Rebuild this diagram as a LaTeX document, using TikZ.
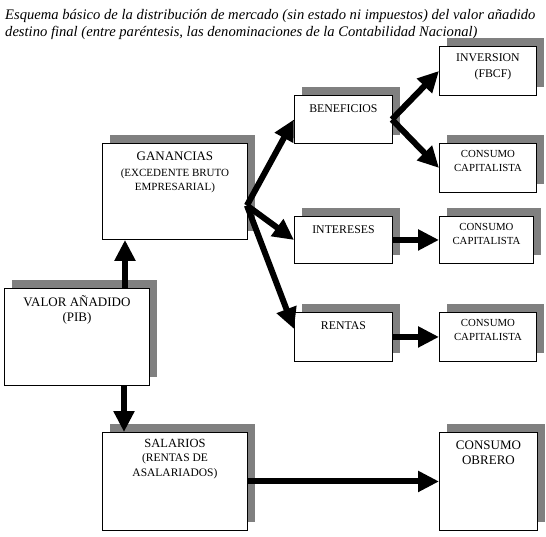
\documentclass[tikz,border=0pt]{standalone}
\usepackage{fontspec}
\setmainfont{Liberation Serif}
\usetikzlibrary{arrows.meta,shadows}
\definecolor{shade}{HTML}{808080}
\begin{document}
\begin{tikzpicture}[x=1pt,y=-1pt,
  box/.style={draw=black,line width=0.9pt,fill=white,inner sep=0pt,anchor=north west,
    drop shadow={shadow xshift=8pt,shadow yshift=8pt,opacity=1,fill=shade,draw=none}},
  txt/.style={anchor=north,inner sep=0pt,align=center},
  flow/.style={line width=6pt,-{Triangle[width=20pt,length=21pt]}},
  label distance=0pt]
\useasboundingbox (0,0) rectangle (546,536);

\node[anchor=north west,inner sep=0pt,align=left,font=\itshape\fontsize{14.6}{17}\selectfont] (title) at (5,9.2)
  {Esquema básico de la distribución de mercado (sin estado ni impuestos) del valor añadido\\
   destino final (entre paréntesis, las denominaciones de la Contabilidad Nacional)};

\node[box,minimum width=145pt,minimum height=97pt,
  label={[txt,yshift=-7.8pt,font=\fontsize{13}{15}\selectfont]north:VALOR AÑADIDO\\(PIB)}] (va) at (4,288) {};
\node[box,minimum width=145pt,minimum height=96pt,
  label={[txt,yshift=-8.7pt,font=\fontsize{11}{14}\selectfont]north:{\fontsize{13}{15}\selectfont GANANCIAS}\\[2pt](EXCEDENTE BRUTO\\EMPRESARIAL)}] (gan) at (102,143) {};
\node[box,minimum width=98pt,minimum height=48pt,
  label={[txt,yshift=-9pt,font=\fontsize{11.8}{14}\selectfont]north:BENEFICIOS}] (ben) at (294,95) {};
\node[box,minimum width=97pt,minimum height=49pt,
  label={[txt,yshift=-7pt,font=\fontsize{11.8}{16}\selectfont]north:INVERSION\\\hspace*{10pt}(FBCF)}] (inv) at (439,46) {};
\node[box,minimum width=97pt,minimum height=49pt,
  label={[txt,yshift=-7.5pt,font=\fontsize{10.8}{14}\selectfont]north:CONSUMO\\CAPITALISTA}] (cc1) at (439,143) {};
\node[box,minimum width=98pt,minimum height=47pt,
  label={[txt,yshift=-9pt,font=\fontsize{11.8}{14}\selectfont]north:INTERESES}] (int) at (294,216) {};
\node[box,minimum width=94pt,minimum height=47pt,
  label={[txt,yshift=-7.5pt,font=\fontsize{10.8}{14}\selectfont]north:CONSUMO\\CAPITALISTA}] (cc2) at (439,216) {};
\node[box,minimum width=98pt,minimum height=49pt,
  label={[txt,yshift=-9pt,font=\fontsize{11.8}{14}\selectfont]north:RENTAS}] (ren) at (294,312) {};
\node[box,minimum width=97pt,minimum height=49pt,
  label={[txt,yshift=-7.5pt,font=\fontsize{10.8}{14}\selectfont]north:CONSUMO\\CAPITALISTA}] (cc3) at (439,312) {};
\node[box,minimum width=145pt,minimum height=98pt,
  label={[txt,yshift=-6.9pt,font=\fontsize{11.5}{14.5}\selectfont]north:{\fontsize{12.5}{15}\selectfont SALARIOS}\\(RENTAS DE\\ASALARIADOS)}] (sal) at (102,432) {};
\node[box,minimum width=98pt,minimum height=98pt,
  label={[txt,yshift=-8.7pt,font=\fontsize{13}{15}\selectfont]north:CONSUMO\\OBRERO}] (obr) at (439,432) {};

\coordinate (g) at ([xshift=-1pt,yshift=-14pt]gan.east);

\draw[flow] ([xshift=23pt]va.north -| gan.west) -- ([xshift=23pt]gan.south west);
\draw[flow] ([xshift=22pt]va.south -| sal.west) -- ([xshift=22pt]sal.north west);
\draw[flow] (sal.east) -- (obr.west);
\draw[flow] (g) -- (ben.west);
\draw[flow] (g) -- (int.west);
\draw[flow] (g) -- ([yshift=8pt]ren.west);
\draw[flow] ([xshift=-1pt]ben.east) -- (inv.west);
\draw[flow] ([xshift=-1pt]ben.east) -- (cc1.west);
\draw[flow] (int.east) -- (cc2.west);
\draw[flow] (ren.east) -- (cc3.west);
\end{tikzpicture}
\end{document}
